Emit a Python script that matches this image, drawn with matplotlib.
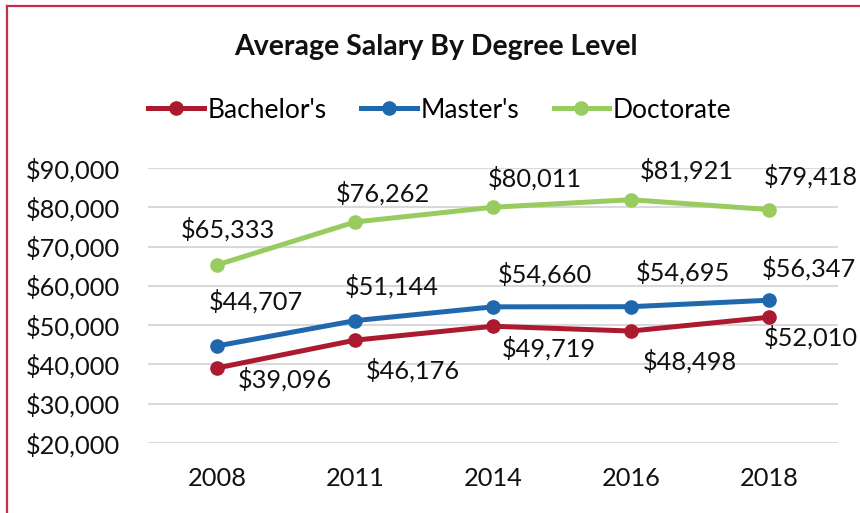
import matplotlib
matplotlib.use("Agg")
import matplotlib.pyplot as plt
from matplotlib.lines import Line2D
from matplotlib.ticker import FuncFormatter

years = ["2008", "2011", "2014", "2016", "2018"]
bachelors = [39096, 46176, 49719, 48498, 52010]
masters = [44707, 51144, 54660, 54695, 56347]
doctorate = [65333, 76262, 80011, 81921, 79418]
series_names = ["Bachelor's", "Master's", "Doctorate"]
title = "Average Salary By Degree Level"

colors = ["#AC1A2F", "#1F68AE", "#98CC5F"]
# label offsets in pixels (dx, dy) per series/point
label_offsets = [
    [(68, -11), (58, -30), (56, -22), (59, -30), (42, -20)],
    [(39, 45), (37, 34), (52, 32), (52, 34), (40, 32)],
    [(11, 36), (28, 29), (42, 29), (56, 29), (42, 33)],
]

plt.rcParams['font.family'] = ['Lato', 'DejaVu Sans']

fig = plt.figure(figsize=(8.6, 5.13), dpi=100)
ax = fig.add_axes([148/860, 1-443/513, 690/860, (443-168)/513])

x = list(range(len(years)))
all_series = [bachelors, masters, doctorate]
for vals, col in zip(all_series, colors):
    ax.plot(x, vals, color=col, lw=3.6, marker='o', markersize=9.5,
            solid_capstyle='round', zorder=3)
for vals, offs in zip(all_series, label_offsets):
    for xi, v, (dx, dy) in zip(x, vals, offs):
        ax.annotate(f"${v:,}", (xi, v), xytext=(dx, dy), textcoords='offset pixels',
                    ha='center', va='center', fontsize=18.3, color='#111111', zorder=4)

ax.set_xlim(-0.5, len(years) - 0.5)
ax.set_ylim(20000, 90000)
ax.set_yticks(range(20000, 90001, 10000))
ax.yaxis.set_major_formatter(FuncFormatter(lambda v, p: f"${int(v):,}"))
ax.set_xticks(x)
ax.set_xticklabels(years)
ax.tick_params(axis='both', length=0, labelsize=18.3, labelcolor='#111111')
ax.tick_params(axis='y', pad=20)
ax.tick_params(axis='x', pad=17)
for s in ax.spines.values():
    s.set_visible(False)
ax.grid(axis='y', color='#D9D9D9', lw=1.5, zorder=0)
ax.set_axisbelow(True)

fig.text(436/860, 1-47/513, title, ha='center', va='center', fontsize=20.5,
         fontweight='bold', color='#111111')

handles = [Line2D([0], [0], color=c, lw=3.6, marker='o', markersize=9.5) for c in colors]
fig.legend(handles, series_names, loc='center', bbox_to_anchor=(440/860, 1-110/513),
           ncol=3, frameon=False, fontsize=19, handlelength=2.1, handletextpad=0.15,
           columnspacing=1.3)

# border (left and top visible)
fig.add_artist(Line2D([7/860, 7/860], [0, 1-6/513], transform=fig.transFigure,
                      color='#C0304A', lw=1.6))
fig.add_artist(Line2D([7/860, 1.0], [1-6/513, 1-6/513], transform=fig.transFigure,
                      color='#C0304A', lw=1.6))

fig.savefig("out.png", dpi=100)
